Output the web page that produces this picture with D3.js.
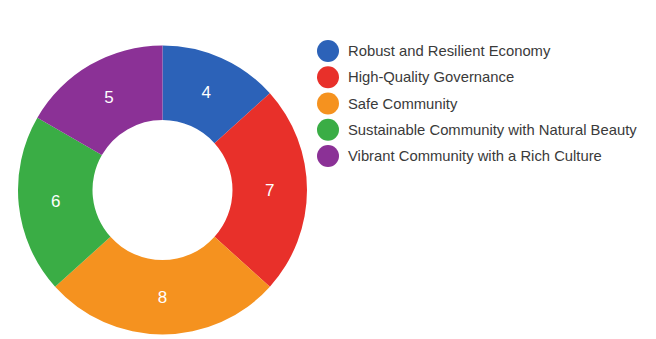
<!DOCTYPE html>
<html>
<head>
<meta charset="utf-8">
<script src="https://cdn.jsdelivr.net/npm/d3@7"></script>
<style>
  html, body { margin: 0; padding: 0; background: #fff; }
  svg { display: block; font-family: "Liberation Sans", Arial, sans-serif; }
</style>
</head>
<body>
<svg id="chart" width="656" height="339"></svg>
<script>
const categories = [
  'Robust and Resilient Economy',
  'High-Quality Governance',
  'Safe Community',
  'Sustainable Community with Natural Beauty',
  'Vibrant Community with a Rich Culture'
];
const values = [4, 7, 8, 6, 5];
const colors = ['#2c62b8', '#e8302a', '#f5921f', '#3aad45', '#8b3196'];

const WIDTH = 656, HEIGHT = 339;
const CENTER = { X: 162.5, Y: 190 };
const OUTER_R = 144.5, INNER_R = 70;

const svg = d3.select('#chart');

const colorScale = d3.scaleOrdinal().domain(categories).range(colors);

const pie = d3.pie().sort(null).value(d => d.value);
const arc = d3.arc().innerRadius(INNER_R).outerRadius(OUTER_R);
const labelArc = d3.arc().innerRadius((INNER_R + OUTER_R) / 2).outerRadius((INNER_R + OUTER_R) / 2);

const data = categories.map((c, i) => ({ key: c, value: values[i] }));

const chart = svg.append('g')
    .attr('transform', `translate(${CENTER.X}, ${CENTER.Y})`);

// Render slices
chart.selectAll('.slice')
    .data(pie(data))
    .enter()
    .append('path')
    .attr('class', 'slice')
    .attr('d', arc)
    .attr('fill', d => colorScale(d.data.key));

// Render value labels
chart.selectAll('.label')
    .data(pie(data))
    .enter()
    .append('text')
    .attr('class', 'label')
    .attr('transform', d => `translate(${labelArc.centroid(d)})`)
    .attr('text-anchor', 'middle')
    .attr('dy', '0.36em')
    .attr('fill', '#fff')
    .attr('font-size', 17)
    .text(d => d.data.value);

// Render legend
const legendY = d3.scalePoint()
    .domain(categories)
    .range([51, 156]);

const legend = svg.append('g').attr('class', 'legend');

const item = legend.selectAll('.item')
    .data(categories)
    .enter()
    .append('g')
    .attr('class', 'item')
    .attr('transform', d => `translate(328, ${legendY(d)})`);

item.append('circle')
    .attr('r', 11)
    .attr('fill', d => colorScale(d));

item.append('text')
    .attr('x', 20)
    .attr('dy', '0.35em')
    .attr('fill', '#3a3a3a')
    .attr('font-size', 14.8)
    .text(d => d);
</script>
</body>
</html>
